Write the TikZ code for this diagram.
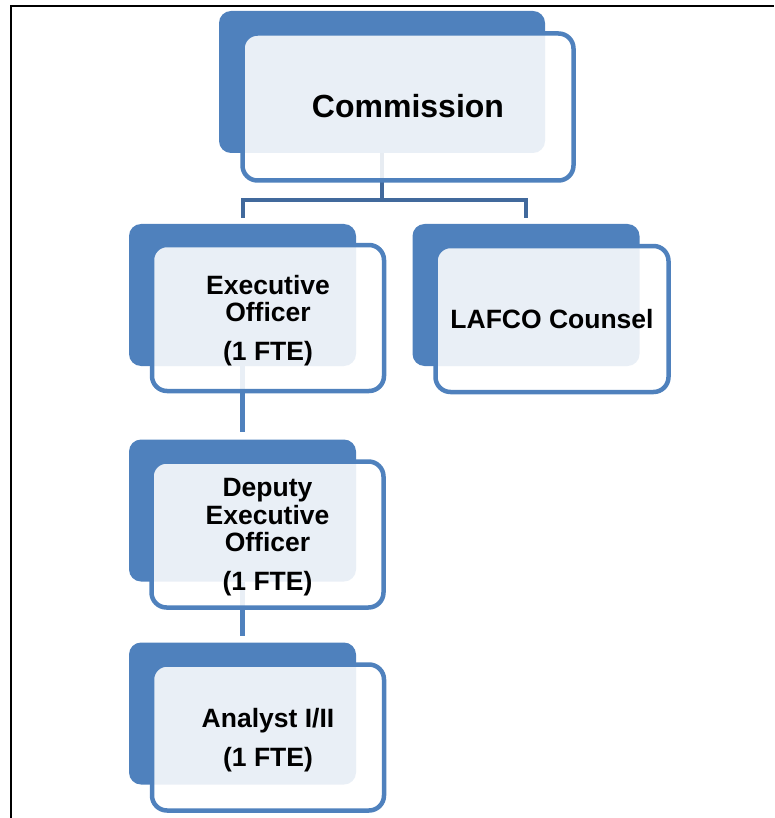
\documentclass[tikz,border=0pt]{standalone}
\usepackage{fontspec}
\setmainfont{Liberation Sans}
\usetikzlibrary{backgrounds}

\definecolor{boxblue}{HTML}{4F81BD}
\definecolor{linkblue}{HTML}{41699C}

\tikzset{
  backbox/.style = {fill=boxblue, rounded corners=12pt, minimum width=227pt, minimum height=142pt, inner sep=0pt},
  frontbox/.style = {draw=boxblue, line width=4.5pt, fill=white, fill opacity=0.88, text opacity=1,
                     rounded corners=15pt, minimum width=232pt, minimum height=146pt, inner sep=0pt,
                     align=center, text depth=-1pt, font=\bfseries\fontsize{26.5}{27.5}\selectfont},
  link/.style = {draw=linkblue, line width=4pt},
}

\begin{document}
\begin{tikzpicture}[x=1pt, y=-1pt]
    \useasboundingbox (0,0) rectangle (774,818);
    \draw[line width=2pt] (11,818) -- (11,6) -- (774,6);

    \node[backbox, minimum width=326pt] (comm-back) at (382,82) {};
    \node[frontbox, minimum width=331pt, minimum height=147pt, text depth=3pt, font=\bfseries\fontsize{32}{34}\selectfont] (comm) at (408,107) {Commission};

    \node[backbox] (exec-back) at (242.5,295) {};
    \node[frontbox] (exec) at (268,318) {Executive\\Officer\\[11.5pt](1 FTE)};

    \node[backbox] (counsel-back) at (526,295) {};
    \node[frontbox, minimum width=233pt, text depth=0pt] (counsel) at (552,319) {LAFCO Counsel};

    \node[backbox] (deputy-back) at (242.5,510.5) {};
    \node[frontbox] (deputy) at (267.5,534.5) {Deputy\\Executive\\Officer\\[11.5pt](1 FTE)};

    \node[backbox] (analyst-back) at (242.5,713.5) {};
    \node[frontbox] (analyst) at (268,737.5) {Analyst I/II\\[11.5pt](1 FTE)};

    \begin{scope}[on background layer]
        \draw[link, shorten >=6pt] (comm-back.south) -- ++(0,47) -| (exec-back.north);
        \draw[link, shorten >=6pt] (comm-back.south) -- ++(0,47) -| (counsel-back.north);
        \draw[link, draw=boxblue, line width=4.5pt, shorten >=7pt] (exec-back.south) -- (deputy-back.north);
        \draw[link, draw=boxblue, line width=4.5pt, shorten >=6pt] (deputy-back.south) -- (analyst-back.north);
    \end{scope}
\end{tikzpicture}
\end{document}
